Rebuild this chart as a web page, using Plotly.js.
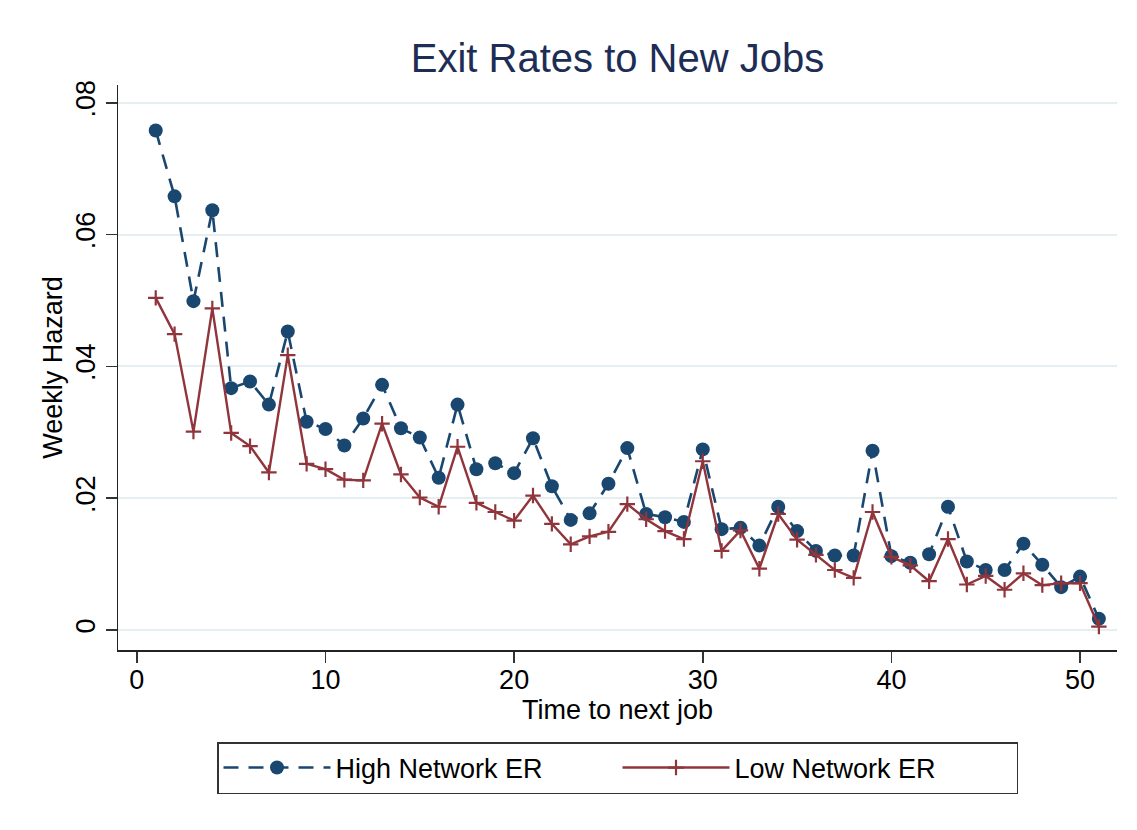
<!DOCTYPE html>
<html>
<head>
<meta charset="utf-8">
<script src="https://cdn.plot.ly/plotly-3.0.1.min.js"></script>
<style>html,body{margin:0;padding:0;background:#fff;}#chart{width:1137px;height:830px;}</style>
</head>
<body>
<div id="chart"></div>
<script>
var weeks = [1,2,3,4,5,6,7,8,9,10,11,12,13,14,15,16,17,18,19,20,21,22,23,24,25,26,27,28,29,30,31,32,33,34,35,36,37,38,39,40,41,42,43,44,45,46,47,48,49,50,51];
var highNetwork = [0.0758,0.0658,0.0499,0.0637,0.0367,0.0377,0.0342,0.0453,0.0316,0.0305,
  0.0280,0.0321,0.0372,0.0306,0.0292,0.0231,0.0342,0.0244,0.0253,0.0238,
  0.0291,0.0218,0.0167,0.0177,0.0222,0.0276,0.0176,0.0171,0.0164,0.0274,
  0.0153,0.0155,0.0128,0.0187,0.0150,0.0120,0.0113,0.0113,0.0272,0.0112,
  0.0102,0.0115,0.0187,0.0104,0.0091,0.0091,0.0131,0.0099,0.0065,0.0081,0.0017];
var lowNetwork = [0.0504,0.0449,0.0301,0.0488,0.0299,0.0279,0.0239,0.0417,0.0252,0.0244,
  0.0228,0.0227,0.0313,0.0236,0.0201,0.0187,0.0278,0.0193,0.0179,0.0166,
  0.0204,0.0161,0.0130,0.0142,0.0149,0.0191,0.0168,0.0150,0.0138,0.0256,
  0.0120,0.0151,0.0093,0.0176,0.0137,0.0114,0.0091,0.0079,0.0179,0.0111,
  0.0098,0.0074,0.0138,0.0069,0.0082,0.0061,0.0086,0.0068,0.0071,0.0071,0.0005];
var seriesNames = ["High Network ER", "Low Network ER"];
var xTickVals = [0,10,20,30,40,50];
var yTickVals = [0,0.02,0.04,0.06,0.08];
var yTickText = ["0",".02",".04",".06",".08"];

var FONT = "Liberation Sans, Arial, Helvetica, sans-serif";

var traces = [
  {
    x: weeks, y: highNetwork, name: seriesNames[0], type: "scatter", mode: "lines+markers",
    line: {color: "#1a476f", width: 2.6, dash: "15px,10px"},
    marker: {color: "#1a476f", size: 14, symbol: "circle"}
  },
  {
    x: weeks, y: lowNetwork, name: seriesNames[1], type: "scatter", mode: "lines+markers",
    line: {color: "#90353b", width: 2.4},
    marker: {color: "#90353b", size: 11, symbol: "cross-thin", line: {color: "#90353b", width: 2.2}}
  }
];

var layout = {
  width: 1137, height: 830,
  paper_bgcolor: "#ffffff", plot_bgcolor: "#ffffff",
  margin: {l: 118, r: 20, t: 85, b: 180, autoexpand: false},
  font: {family: FONT, color: "#000000", size: 27},
  title: {text: "Exit Rates to New Jobs", font: {family: FONT, size: 40, color: "#1e2d55"},
          x: 0.5, xref: "paper", xanchor: "center", y: 0.930, yanchor: "middle"},
  xaxis: {
    range: [-1.0, 51.96], tickvals: xTickVals, ticks: "outside", ticklen: 11, tickwidth: 1.5,
    tickcolor: "#333", showline: true, linecolor: "#222", linewidth: 1.5, showgrid: false,
    zeroline: false, tickfont: {size: 27, family: FONT}, ticklabelstandoff: -6,
    title: {text: "Time to next job", font: {size: 27, family: FONT}, standoff: 6}
  },
  yaxis: {
    range: [-0.00304, 0.0827], tickvals: yTickVals, ticktext: yTickText, tickangle: -90,
    ticks: "outside", ticklen: 11, tickwidth: 1.5, tickcolor: "#333",
    showline: true, linecolor: "#222", linewidth: 1.5, showgrid: true, gridcolor: "#e5eef1",
    gridwidth: 2, zeroline: false, tickfont: {size: 27, family: FONT},
    title: {text: "Weekly Hazard", font: {size: 27, family: FONT}, standoff: 0}
  },
  showlegend: true,
  legend: {
    orientation: "h", x: 0.5, xanchor: "center", yref: "container", y: 0.106, yanchor: "top",
    bordercolor: "#333", borderwidth: 1.5, bgcolor: "#fff",
    font: {size: 27, family: FONT}, itemwidth: 107, entrywidth: 277, entrywidthmode: "pixels",
    traceorder: "normal"
  }
};

Plotly.newPlot("chart", traces, layout, {displayModeBar: false, staticPlot: true});
</script>
</body>
</html>
